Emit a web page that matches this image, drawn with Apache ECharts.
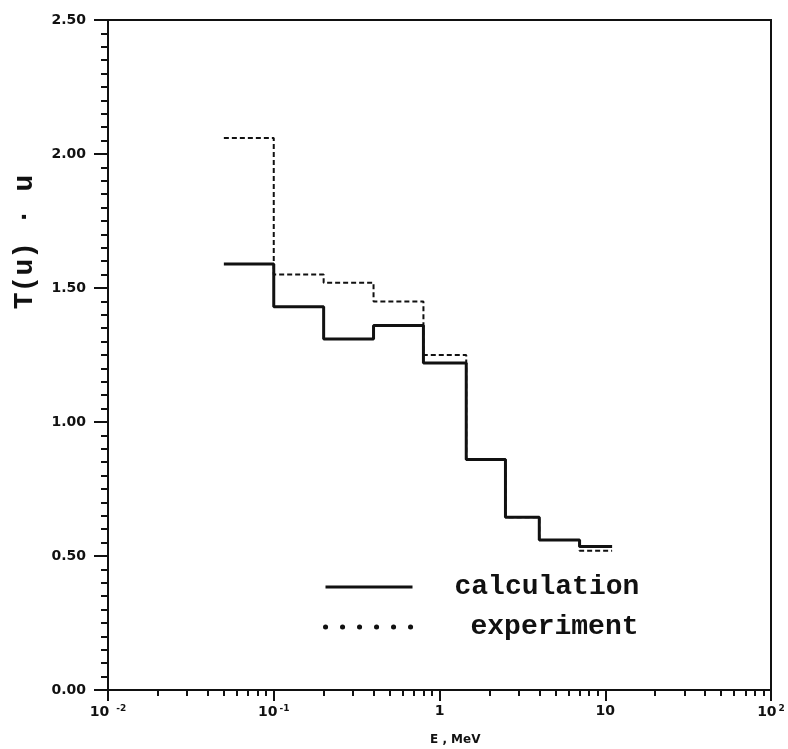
<!DOCTYPE html>
<html>
<head>
<meta charset="utf-8">
<script src="https://cdn.jsdelivr.net/npm/echarts@6/dist/echarts.min.js"></script>
<style>
  html, body { margin: 0; padding: 0; background: #fff; }
  #chart { width: 788px; height: 749px; }
</style>
</head>
<body>
<div id="chart"></div>
<script>
// bin edges, MeV (log axis)
var binEdges = [0.05, 0.1, 0.2, 0.4, 0.8, 1.45, 2.5, 4, 7, 11];
// T(u)·u per bin
var calcValues = [1.59, 1.43, 1.31, 1.36, 1.22, 0.86, 0.645, 0.56, 0.535];
var expValues = [2.06, 1.55, 1.52, 1.45, 1.25, 0.86, 0.645, 0.56, 0.52];

var xTickValues = [0.01, 0.1, 1, 10, 100];
var xTickText = ['10 {s|-2}', '10{s|-1}', '1', '10', '10{s|2}'];
var xMinorTicks = [0.02, 0.03, 0.04, 0.05, 0.06, 0.07, 0.08, 0.09,
                   0.2, 0.3, 0.4, 0.5, 0.6, 0.7, 0.8, 0.9,
                   2, 3, 4, 5, 6, 7, 8, 9,
                   20, 30, 40, 50, 60, 70, 80, 90];

/** step data: one point per bin start, plus the closing edge */
function stepData(values) {
    var pts = [];
    for (var i = 0; i < values.length; i++) {
        pts.push([binEdges[i], values[i]]);
    }
    pts.push([binEdges[values.length], values[values.length - 1]]);
    return pts;
}

var ink = '#111';
var mono = '"Liberation Mono", "DejaVu Sans Mono", monospace';

var chart = echarts.init(document.getElementById('chart'));
chart.setOption({
    animation: false,
    backgroundColor: '#fff',
    color: [ink, ink],
    grid: {
        left: 108, right: 17, top: 20, bottom: 59,
        show: true, borderColor: ink, borderWidth: 2
    },
    legend: {
        orient: 'vertical',
        left: 323, top: 573, padding: 0,
        itemWidth: 87, itemHeight: 24, itemGap: 12,
        itemStyle: {opacity: 0},
        data: [
            {name: 'calculation', lineStyle: {type: 'solid', width: 3, color: ink}},
            {name: 'experiment', lineStyle: {type: [0.1, 16.9], width: 5, cap: 'round', color: ink}}
        ],
        formatter: function (name) {
            return name === 'experiment' ? '{e|experiment}' : '{c|calculation}';
        },
        textStyle: {
            fontFamily: mono, fontWeight: 'bold', fontSize: 28, color: ink,
            rich: {
                c: {fontFamily: mono, fontWeight: 'bold', fontSize: 28, color: ink, padding: [0, 0, 0, 37]},
                e: {fontFamily: mono, fontWeight: 'bold', fontSize: 28, color: ink, padding: [0, 0, 0, 53]}
            }
        }
    },
    xAxis: [{
        type: 'log', logBase: 10, min: 0.01, max: 100,
        axisLine: {show: true, lineStyle: {color: ink, width: 2}},
        axisTick: {show: true, length: 11, lineStyle: {color: ink, width: 2}, customValues: xTickValues},
        axisLabel: {
            color: ink, margin: 14, fontSize: 14, fontWeight: 'bold',
            fontFamily: '"DejaVu Sans", sans-serif',
            customValues: xTickValues,
            formatter: function (v) {
                var idx = xTickValues.findIndex(function (t) { return Math.abs(t - v) / t < 1e-6; });
                return idx >= 0 ? xTickText[idx] : '';
            },
            rich: {s: {fontSize: 9, fontWeight: 'bold', verticalAlign: 'top', padding: [0, 0, 8, 2]}}
        },
        splitLine: {show: false}
    }, {
        type: 'log', logBase: 10, min: 0.01, max: 100, position: 'bottom',
        axisLine: {show: false},
        axisTick: {show: true, length: 6, lineStyle: {color: ink, width: 2}, customValues: xMinorTicks},
        axisLabel: {show: false},
        splitLine: {show: false}
    }],
    yAxis: {
        type: 'value', min: 0, max: 2.5, interval: 0.5,
        axisLine: {show: true, lineStyle: {color: ink, width: 2}},
        axisTick: {show: true, length: 14, lineStyle: {color: ink, width: 2}},
        minorTick: {show: true, splitNumber: 10, length: 7, lineStyle: {color: ink, width: 2}},
        axisLabel: {
            color: ink, margin: 22, fontSize: 14, fontWeight: 'bold',
            fontFamily: '"DejaVu Sans", sans-serif',
            formatter: function (v) { return v.toFixed(2); }
        },
        splitLine: {show: false}
    },
    graphic: [{
        type: 'text',
        x: 25, y: 242, rotation: Math.PI / 2,
        style: {
            text: 'T(u) · u', fill: ink,
            font: 'bold 28px ' + mono,
            align: 'center', verticalAlign: 'middle'
        }
    }, {
        type: 'text',
        x: 430, y: 740,
        style: {
            text: 'E , MeV', fill: ink,
            font: 'bold 12px "DejaVu Sans", sans-serif',
            verticalAlign: 'middle'
        }
    }],
    series: [{
        name: 'experiment', type: 'line', step: 'end',
        data: stepData(expValues), symbol: 'none',
        itemStyle: {color: ink},
        lineStyle: {color: ink, width: 2, type: [5, 3]}, z: 2
    }, {
        name: 'calculation', type: 'line', step: 'end',
        data: stepData(calcValues), symbol: 'none',
        itemStyle: {color: ink},
        lineStyle: {color: ink, width: 3}, z: 3
    }]
});
</script>
</body>
</html>
